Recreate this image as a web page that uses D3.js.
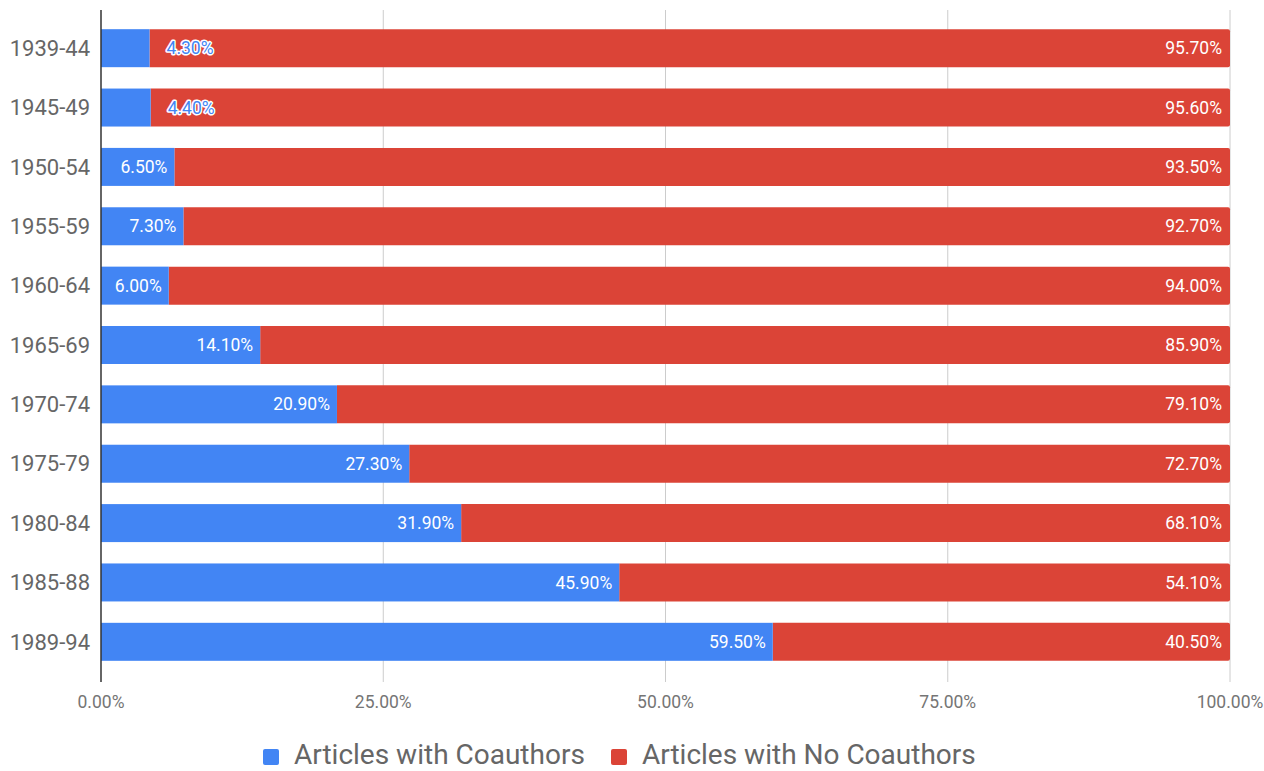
<!DOCTYPE html>
<html><head><meta charset="utf-8">
<script src="https://cdn.jsdelivr.net/npm/d3@7"></script>
<style>body{margin:0;background:#fff;} text{font-family:Roboto,"Noto Sans",sans-serif;}</style>
</head><body>
<svg id="c" width="1264" height="771"></svg>
<script>
const categories = ["1939-44","1945-49","1950-54","1955-59","1960-64","1965-69","1970-74","1975-79","1980-84","1985-88","1989-94"];
const withCoauthors = [4.3,4.4,6.5,7.3,6.0,14.1,20.9,27.3,31.9,45.9,59.5];
const noCoauthors = [95.7,95.6,93.5,92.7,94.0,85.9,79.1,72.7,68.1,54.1,40.5];
const xTicks = [0,25,50,75,100];
const seriesNames = ["Articles with Coauthors","Articles with No Coauthors"];
const colors = ["#4285F4","#DB4437"];

const svg = d3.select("#c");
const x = d3.scaleLinear().domain([0,100]).range([101,1230]);
const y = d3.scaleBand().domain(categories).range([18.5,671.5]).paddingInner(0.36).paddingOuter(0.18);

// gridlines
svg.append("g").selectAll("line").data(xTicks.slice(1)).join("line")
  .attr("x1",d=>x(d)).attr("x2",d=>x(d)).attr("y1",10).attr("y2",682)
  .attr("stroke","#cccccc").attr("stroke-width",1);

// bars
const rows = categories.map((c,i)=>({c, a:withCoauthors[i], b:noCoauthors[i]}));
const g = svg.append("g");
g.selectAll("path.r").data(rows).join("path")
  .attr("fill",colors[1])
  .attr("d",d=>{
    const x0=x(d.a), x1=x(d.a+d.b), y0=y(d.c), h=y.bandwidth(), r=2;
    return `M${x0},${y0}H${x1-r}Q${x1},${y0} ${x1},${y0+r}V${y0+h-r}Q${x1},${y0+h} ${x1-r},${y0+h}H${x0}Z`;
  });
g.selectAll("rect.b").data(rows).join("rect")
  .attr("x",x(0)).attr("y",d=>y(d.c)).attr("width",d=>x(d.a)-x(0)).attr("height",y.bandwidth())
  .attr("fill",colors[0]);

// labels
const fmt = v => v.toFixed(2)+"%";
const LF = 17.5;
rows.forEach(d=>{
  const cy = y(d.c)+y.bandwidth()/2;
  if (d.a < 5) {
    svg.append("text").attr("x",x(d.a)+17).attr("y",cy).attr("dy","0.35em")
      .attr("font-size",LF).attr("fill",colors[0]).attr("stroke","#fff").attr("stroke-width",3)
      .attr("paint-order","stroke").attr("stroke-linejoin","round").text(fmt(d.a));
  } else {
    svg.append("text").attr("x",x(d.a)-7).attr("y",cy).attr("dy","0.35em").attr("text-anchor","end")
      .attr("font-size",LF).attr("fill","#fff").text(fmt(d.a));
  }
  svg.append("text").attr("x",x(d.a+d.b)-8).attr("y",cy).attr("dy","0.35em").attr("text-anchor","end")
    .attr("font-size",LF).attr("fill","#fff").text(fmt(d.b));
});

// axis line
svg.append("line").attr("x1",x(0)).attr("x2",x(0)).attr("y1",10).attr("y2",682).attr("stroke","#333").attr("stroke-width",1.5);

// y labels
svg.append("g").selectAll("text").data(categories).join("text")
  .attr("x",90).attr("y",d=>y(d)+y.bandwidth()/2).attr("dy","0.35em").attr("text-anchor","end")
  .attr("font-size",22).attr("fill","#666").text(d=>d);

// x tick labels
svg.append("g").selectAll("text").data(xTicks).join("text")
  .attr("x",d=>x(d)).attr("y",702).attr("dy","0.35em").attr("text-anchor","middle")
  .attr("font-size",17.5).attr("fill","#757575").text(d=>d.toFixed(2)+"%");

// legend
const leg = [{n:seriesNames[0],c:colors[0],x:263},{n:seriesNames[1],c:colors[1],x:611}];
leg.forEach(l=>{
  svg.append("rect").attr("x",l.x).attr("y",749).attr("width",16).attr("height",16).attr("rx",2).attr("fill",l.c);
  svg.append("text").attr("x",l.x+31).attr("y",764).attr("font-size",28).attr("fill","#666").text(l.n);
});
</script>
</body></html>
